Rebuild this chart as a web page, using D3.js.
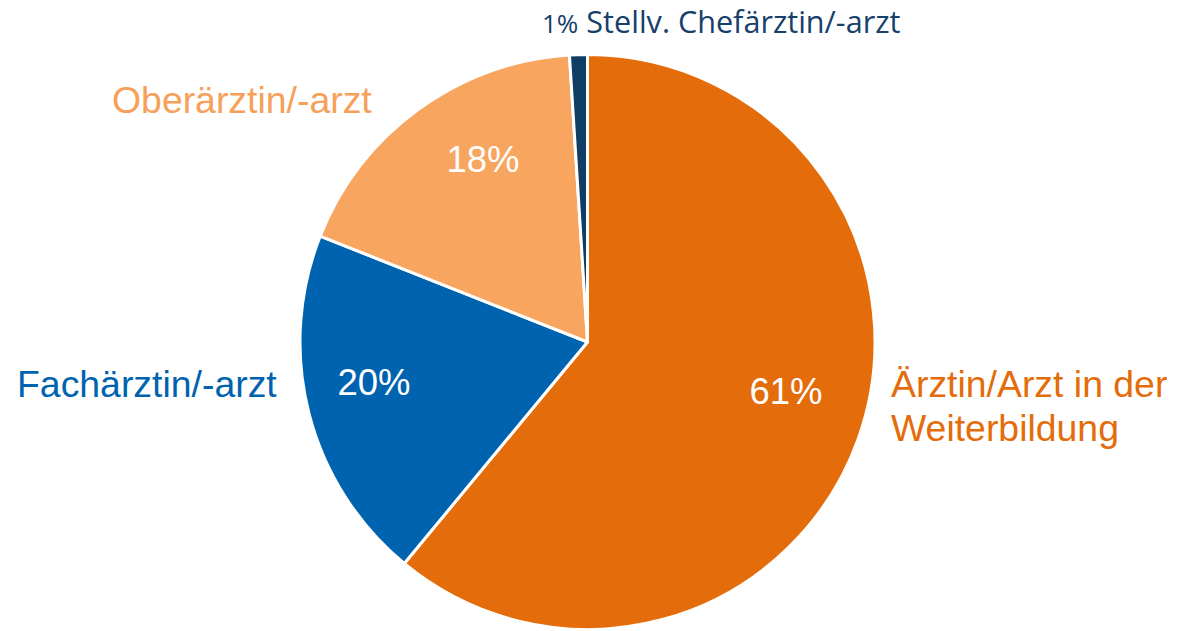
<!DOCTYPE html>
<html><head><meta charset="utf-8">
<script src="https://cdn.jsdelivr.net/npm/d3@7"></script>
<style>body{margin:0;background:#fff}svg{display:block}</style>
</head><body>
<script>
const categories = ["Ärztin/Arzt in der Weiterbildung", "Fachärztin/-arzt", "Oberärztin/-arzt", "Stellv. Chefärztin/-arzt"];
const values = [61, 20, 18, 1];
const sliceColors = ["#E46C0A", "#0063AF", "#F7A55F", "#0F3D66"];
const labelColors = ["#E46C0A", "#0063AF", "#F6A05A", "#17406A"];

const W = 1178, H = 631;
const cx = 587.5, cy = 342, R = 287.5;
const svg = d3.select("body").append("svg").attr("width", W).attr("height", H);
const g = svg.append("g").attr("transform", `translate(${cx},${cy})`);

const pie = d3.pie().sort(null).value(d => d)(values);
const arc = d3.arc().innerRadius(0).outerRadius(R);
g.selectAll("path").data(pie).enter().append("path")
  .attr("d", arc).attr("fill", (d, i) => sliceColors[i])
  .attr("stroke", "#fff").attr("stroke-width", 3).attr("stroke-linejoin", "round");

// inner percentage labels
const pctPos = [[786, 404], [374, 395], [483, 172]];
const fmt = v => v + "%";
pctPos.forEach((p, i) => {
  svg.append("text").attr("x", p[0]).attr("y", p[1]).attr("text-anchor", "middle")
    .attr("font-family", "Liberation Sans, Arial, sans-serif").attr("font-size", 36.5)
    .attr("fill", "#fff").text(fmt(values[i]));
});

const outer = svg.append("g").attr("font-family", "Liberation Sans, Arial, sans-serif").attr("font-size", 37.4);
const t0 = outer.append("text").attr("fill", labelColors[0]);
t0.append("tspan").attr("x", 891).attr("y", 397).text("Ärztin/Arzt in der");
t0.append("tspan").attr("x", 891).attr("y", 441).text("Weiterbildung");
outer.append("text").attr("x", 17).attr("y", 397).attr("fill", labelColors[1]).text(categories[1]);
outer.append("text").attr("x", 112).attr("y", 113).attr("fill", labelColors[2]).text(categories[2]);

// top label
const topLabel = svg.append("text").attr("x", 542).attr("y", 33).attr("fill", labelColors[3])
  .attr("font-family", "Open Sans, Noto Sans, sans-serif");
topLabel.append("tspan").attr("font-size", 26).text(fmt(values[3]));
topLabel.append("tspan").attr("font-size", 30.6).text(" " + categories[3]);
</script>
</body></html>
